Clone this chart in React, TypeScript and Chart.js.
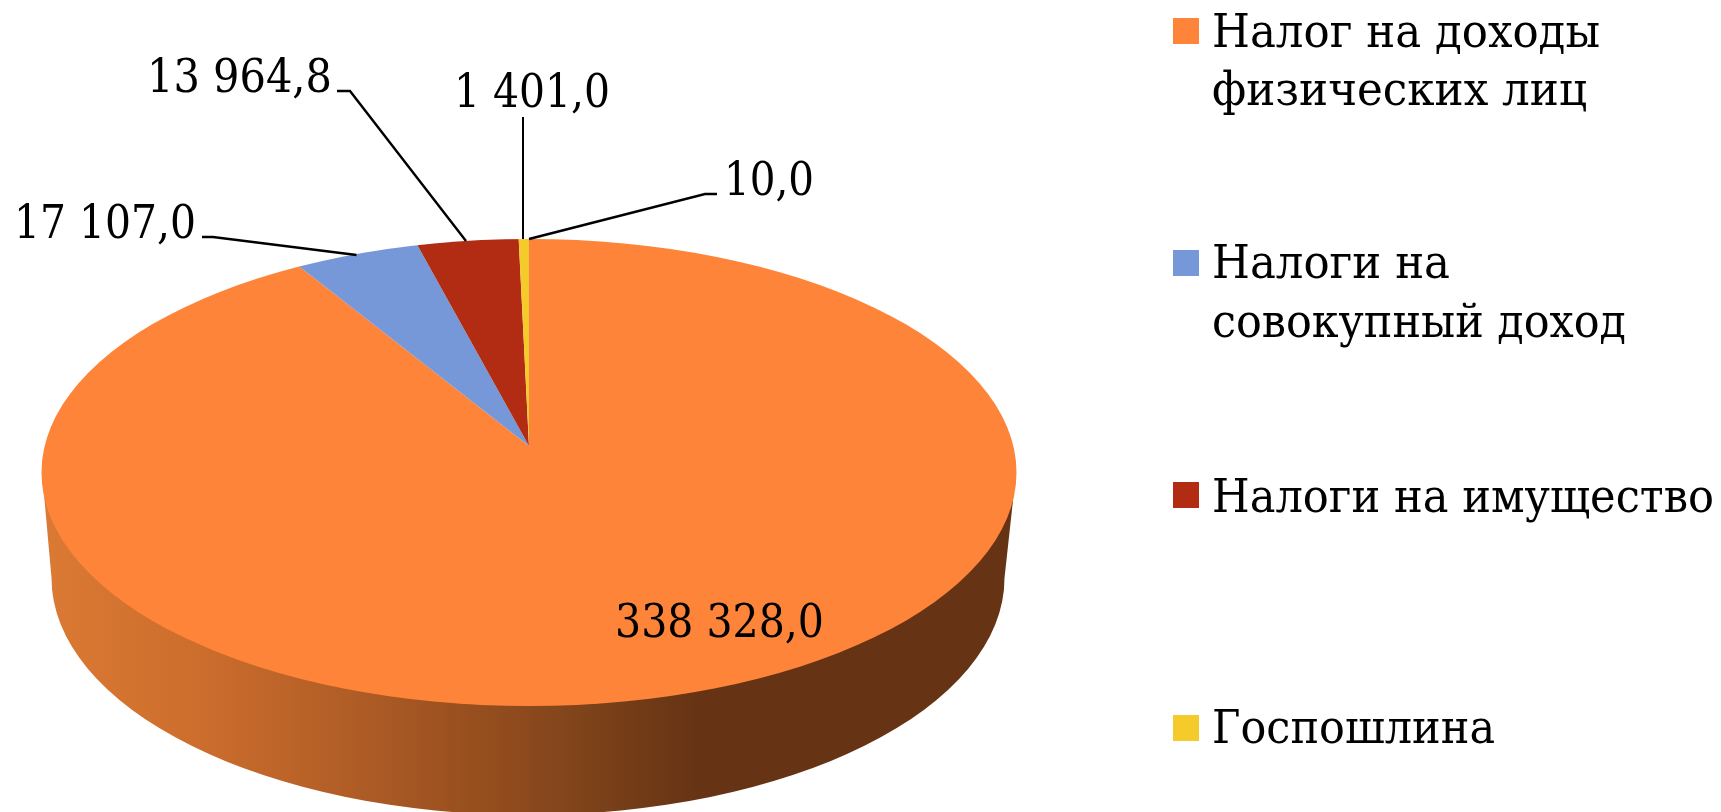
import React, { useEffect, useRef } from "react";
import { Chart, registerables } from "chart.js";

Chart.register(...registerables);

const categories = [
  "Налог на доходы физических лиц",
  "Налоги на совокупный доход",
  "Налоги на имущество",
  "Госпошлина",
  "",
];
const seriesValues = [338328.0, 17107.0, 13964.8, 1401.0, 10.0];
const sliceColors = ["#FE8439", "#7698D8", "#B22C14", "#F4CB2A", "#FE8439"];
const legendLines = [
  ["Налог на доходы", "физических лиц"],
  ["Налоги на", "совокупный доход"],
  ["Налоги на имущество"],
  ["Госпошлина"],
];

const FONT = '46px "DejaVu Serif"';

// layout (pixels)
const TOP = { cx: 529, cy: 472.5, rx: 487.5, ry: 233.5 };
const BOTTOM = { cx: 528, cy: 578, rx: 476.5, ry: 237 };
const APEX = { x: 529, y: 446 };
const SCALE_X = 700 / 406;
const SCALE_Y = SCALE_X / 2.085;

const wallStops: [number, string][] = [
  [41, "rgb(218,122,52)"],
  [190, "rgb(206,110,45)"],
  [350, "rgb(176,93,38)"],
  [480, "rgb(150,78,30)"],
  [560, "rgb(132,70,28)"],
  [620, "rgb(118,62,24)"],
  [700, "rgb(102,51,20)"],
  [1014, "rgb(102,51,20)"],
];

const valueLabelBoxes = [
  { x: 615, y: 637, w: 209 },
  { x: 14, y: 238, w: 182 },
  { x: 147, y: 92, w: 185 },
  { x: 454, y: 107, w: 156 },
  { x: 724, y: 195, w: 90 },
];
const leaders: { pts: [number, number][]; width: number }[] = [
  { pts: [[202, 237], [213, 237], [356.5, 255]], width: 2.4 },
  { pts: [[337, 91], [350, 91], [466, 241]], width: 2.4 },
  { pts: [[523, 117], [523, 239]], width: 2 },
  { pts: [[717, 194], [705, 194], [529, 239]], width: 2.4 },
];
const legendSwatchX = 1173;
const legendSwatchSize = 26;
const legendSwatchY = [18, 250, 482, 715];
const legendTextX = 1212;
const legendBaselines = [[47, 105], [278, 337], [512], [743]];
const legendWidths = [[388, 375], [238, 414], [502], [283]];

const formatValue = (v: number) => {
  const [a, b] = v.toFixed(1).split(".");
  return a.replace(/\B(?=(\d{3})+$)/g, " ") + "," + b;
};

const pie3d = {
  id: "pie3d",
  beforeDatasetsDraw(chart: any) {
    const ctx = chart.ctx;
    const grad = ctx.createLinearGradient(41, 0, 1014, 0);
    wallStops.forEach(([x, c]) => grad.addColorStop((x - 41) / (1014 - 41), c));
    ctx.save();
    ctx.beginPath();
    ctx.ellipse(BOTTOM.cx, BOTTOM.cy, BOTTOM.rx, BOTTOM.ry, 0, 0, Math.PI);
    ctx.lineTo(TOP.cx - TOP.rx + 1, TOP.cy + 5);
    ctx.lineTo(TOP.cx + TOP.rx - 1, TOP.cy + 5);
    ctx.closePath();
    ctx.fillStyle = grad;
    ctx.fill();
    ctx.restore();
  },
  beforeDatasetDraw(chart: any) {
    const ctx = chart.ctx;
    const arc = chart.getDatasetMeta(0).data[0];
    ctx.save();
    ctx.beginPath();
    ctx.ellipse(TOP.cx, TOP.cy, TOP.rx, TOP.ry, 0, 0, Math.PI * 2);
    ctx.clip();
    ctx.translate(APEX.x, APEX.y);
    ctx.scale(SCALE_X, SCALE_Y);
    ctx.translate(-arc.x, -arc.y);
  },
  afterDatasetDraw(chart: any) {
    chart.ctx.restore();
  },
  afterDatasetsDraw(chart: any) {
    const ctx = chart.ctx;
    ctx.save();
    ctx.strokeStyle = "#000";
    leaders.forEach((l) => {
      ctx.lineWidth = l.width;
      ctx.beginPath();
      l.pts.forEach(([x, y], i) => (i ? ctx.lineTo(x, y) : ctx.moveTo(x, y)));
      ctx.stroke();
    });
    ctx.fillStyle = "#000";
    ctx.font = FONT;
    ctx.textBaseline = "alphabetic";
    ctx.textAlign = "left";
    seriesValues.forEach((v, i) => {
      const b = valueLabelBoxes[i];
      ctx.fillText(formatValue(v), b.x, b.y, b.w);
    });
    legendLines.forEach((lines, i) => {
      ctx.fillStyle = sliceColors[i];
      ctx.fillRect(legendSwatchX, legendSwatchY[i], legendSwatchSize, legendSwatchSize);
      ctx.fillStyle = "#000";
      lines.forEach((t, j) => {
        ctx.fillText(t, legendTextX, legendBaselines[i][j], legendWidths[i][j]);
      });
    });
    ctx.restore();
  },
};

export default function App() {
  const ref = useRef<HTMLCanvasElement>(null);
  useEffect(() => {
    const chart = new Chart(ref.current as HTMLCanvasElement, {
      type: "pie",
      data: {
        labels: categories,
        datasets: [
          {
            data: seriesValues,
            backgroundColor: sliceColors,
            borderWidth: 0,
            clip: false,
          } as any,
        ],
      },
      options: {
        responsive: false,
        animation: false,
        devicePixelRatio: 1,
        rotation: 0,
        radius: "100%",
        layout: { padding: 0 },
        plugins: { legend: { display: false }, tooltip: { enabled: false } },
      },
      plugins: [pie3d],
    });
    return () => chart.destroy();
  }, []);
  return (
    <div style={{ position: "fixed", left: 0, top: 0, width: 1721, height: 812, background: "#fff" }}>
      <canvas ref={ref} width={1721} height={812} style={{ display: "block" }} />
    </div>
  );
}
